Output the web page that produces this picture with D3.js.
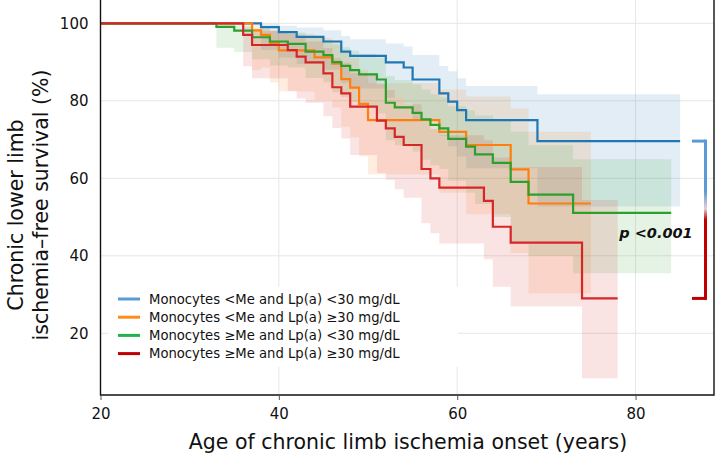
<!DOCTYPE html>
<html><head><meta charset="utf-8">
<script src="https://cdn.jsdelivr.net/npm/d3@7"></script>
<style>
body{margin:0;background:#fff}
svg{display:block}
text{font-family:"DejaVu Sans",sans-serif;fill:#111}
</style>
</head><body>
<svg id="c" width="722" height="463"></svg>
<script>
// ---------- data ----------
const xTicks = [20, 40, 60, 80];
const yTicks = [20, 40, 60, 80, 100];
const seriesNames = [
  "Monocytes <Me and Lp(a) <30 mg/dL",
  "Monocytes <Me and Lp(a) \u226530 mg/dL",
  "Monocytes \u2265Me and Lp(a) <30 mg/dL",
  "Monocytes \u2265Me and Lp(a) \u226530 mg/dL"
];
const pText = "p <0.001";

const blueTimes = [20, 38, 40, 42, 45, 47, 48, 52, 54, 55, 58, 59, 60, 61, 69];
const blueEnd = 85;
const blueSurv  = [100, 99.0, 97.7, 96.5, 95.3, 92.7, 91.6, 89.9, 88.6, 85.5, 81.9, 79.8, 77.6, 75.0, 69.6];
const blueLower = [100, 93.1, 91.1, 89.5, 88.0, 84.5, 83.2, 80.8, 79.3, 75.3, 70.9, 68.3, 65.6, 62.6, 52.7];
const blueUpper = [100, 99.9, 99.4, 98.9, 98.2, 96.7, 95.9, 94.8, 94.0, 91.8, 89.0, 87.6, 85.8, 83.8, 81.7];

const orangeTimes = [20, 37, 38, 39, 40, 44, 46, 47, 48, 49, 50, 58, 61, 66, 68];
const orangeEnd = 75;
const orangeSurv  = [100, 98.2, 97.0, 94.8, 93.0, 91.2, 89.6, 85.6, 83.4, 79.2, 75.0, 72.0, 68.6, 62.3, 53.5];
const orangeLower = [100, 87.9, 88.5, 84.7, 82.4, 80.2, 78.3, 73.3, 70.6, 65.6, 61.0, 56.3, 50.7, 40.7, 30.3];
const orangeUpper = [100, 99.7, 99.2, 98.3, 97.3, 96.2, 95.2, 92.5, 91.0, 87.9, 84.6, 82.9, 81.1, 78.0, 72.0];

const greenTimes = [20, 33, 35, 37, 39, 41, 43, 45, 46, 47, 48, 49, 51, 52, 53, 55, 56, 57, 58, 59, 61, 62, 64, 66, 68, 73];
const greenEnd = 84;
const greenSurv  = [100, 99.1, 98.1, 96.4, 95.3, 94.7, 92.7, 91.8, 90.0, 89.0, 87.9, 86.8, 85.5, 79.5, 78.3, 76.9, 75.2, 73.8, 72.9, 70.2, 68.2, 66.2, 64.0, 59.1, 55.8, 51.1];
const greenLower = [100, 93.7, 92.6, 90.7, 89.1, 88.6, 85.9, 84.8, 82.2, 81.0, 79.7, 78.4, 76.7, 69.8, 68.5, 66.9, 64.8, 63.4, 62.4, 59.4, 56.3, 53.4, 50.0, 43.1, 40.0, 35.5];
const greenUpper = [100, 99.9, 99.5, 98.6, 98.0, 97.6, 96.3, 95.6, 94.5, 93.8, 92.9, 92.1, 91.1, 86.4, 85.4, 84.2, 82.9, 81.7, 80.9, 78.6, 77.5, 76.2, 75.0, 72.0, 68.5, 64.9];

const redTimes = [20, 36, 37, 41, 42, 43, 45, 46, 47, 48, 51, 52, 53, 54, 56, 57, 58, 63, 64, 66, 74];
const redEnd = 78;
const redSurv  = [100, 97.0, 94.4, 93.1, 91.4, 89.9, 87.1, 83.5, 81.9, 78.5, 74.9, 72.9, 70.7, 68.6, 62.4, 60.0, 57.6, 54.2, 47.5, 43.4, 29.0];
const redLower = [100, 88.9, 85.8, 82.5, 80.6, 79.5, 76.0, 73.0, 70.3, 66.0, 61.4, 59.6, 57.2, 55.0, 48.4, 45.8, 43.2, 39.1, 32.0, 26.9, 8.4];
const redUpper = [100, 99.2, 98.0, 97.3, 96.3, 95.3, 93.6, 91.0, 89.8, 87.2, 84.3, 82.7, 80.8, 79.1, 74.5, 72.7, 71.1, 69.8, 65.4, 62.9, 54.4];

// ---------- styles ----------
const lineColors   = ["#1f77b4", "#ff7f0e", "#2ca02c", "#d62728"];
const legendColors = ["#5b9bd5", "#ff8c1a", "#21b24b", "#c00000"];

const series = [
  {t: blueTimes, s: blueSurv, lo: blueLower, hi: blueUpper, end: blueEnd},
  {t: orangeTimes, s: orangeSurv, lo: orangeLower, hi: orangeUpper, end: orangeEnd},
  {t: greenTimes, s: greenSurv, lo: greenLower, hi: greenUpper, end: greenEnd},
  {t: redTimes, s: redSurv, lo: redLower, hi: redUpper, end: redEnd}
];

const L = 100.5, R = 714, T = 0, B = 395;
const x = d3.scaleLinear().domain([20, 88.8]).range([L, R]);
const y = d3.scaleLinear().domain([20, 100]).range([333.3, 23.3]);

const svg = d3.select("#c");
svg.append("rect").attr("width", 722).attr("height", 463).attr("fill", "#fff");

// grid
const grid = svg.append("g");
grid.selectAll("line.h").data(yTicks).join("line")
  .attr("x1", L).attr("x2", R).attr("y1", d => y(d)).attr("y2", d => y(d))
  .attr("stroke", "#e6e6e6").attr("stroke-width", 1);
grid.selectAll("line.v").data(xTicks.slice(1)).join("line")
  .attr("x1", d => x(d)).attr("x2", d => x(d)).attr("y1", T).attr("y2", B)
  .attr("stroke", "#e6e6e6").attr("stroke-width", 1);

function pts(d) {
  const arr = d.t.map((t, i) => ({t, v: d.s[i], lo: d.lo[i], hi: d.hi[i]}));
  const last = arr[arr.length - 1];
  arr.push({t: d.end, v: last.v, lo: last.lo, hi: last.hi});
  return arr;
}

const area = d3.area().curve(d3.curveStepAfter)
  .x(d => x(d.t)).y0(d => y(d.lo)).y1(d => y(d.hi));
const line = d3.line().curve(d3.curveStepAfter)
  .x(d => x(d.t)).y(d => y(d.v));

const bands = svg.append("g");
series.forEach((d, i) => {
  bands.append("path").attr("d", area(pts(d).slice(1)))
    .attr("fill", lineColors[i]).attr("fill-opacity", 0.13).attr("stroke", "none");
});

// legend background box (covers gridlines)
svg.append("rect").attr("x", 108).attr("y", 287).attr("width", 350).attr("height", 80).attr("fill", "#fff");

const lines = svg.append("g");
series.forEach((d, i) => {
  lines.append("path").attr("d", line(pts(d)))
    .attr("fill", "none").attr("stroke", lineColors[i]).attr("stroke-width", 2.2);
});

// frame
svg.append("path").attr("d", `M${L},${T}V${B}H${R}V${T}`)
  .attr("fill", "none").attr("stroke", "#111").attr("stroke-width", 1.4);

// x axis
const xa = svg.append("g").attr("transform", `translate(0,${B})`)
  .call(d3.axisBottom(x).tickValues(xTicks).tickSize(5).tickPadding(8).tickFormat(d3.format("d")));
xa.select(".domain").remove();
xa.selectAll(".tick line").attr("stroke", "#555");
xa.selectAll("text").attr("font-size", 15).attr("fill", "#111").style("font-family", "DejaVu Sans");

// y axis
const ya = svg.append("g").attr("transform", `translate(${L},0)`)
  .call(d3.axisLeft(y).tickValues(yTicks).tickSize(0).tickPadding(12).tickFormat(d3.format("d")));
ya.select(".domain").remove();
ya.selectAll("text").attr("font-size", 15).attr("fill", "#111").style("font-family", "DejaVu Sans");

// axis titles
svg.append("text").attr("x", 408).attr("y", 449).attr("text-anchor", "middle")
  .attr("font-size", 20.5).text("Age of chronic limb ischemia onset (years)");
svg.append("text").attr("transform", "translate(23,215) rotate(-90)").attr("text-anchor", "middle")
  .attr("font-size", 20.5).text("Chronic lower limb");
svg.append("text").attr("transform", "translate(48,205) rotate(-90)").attr("text-anchor", "middle")
  .attr("font-size", 20.5).text("ischemia\u2013free survival (%)");

// legend
const lg = svg.append("g");
seriesNames.forEach((n, i) => {
  const cy = 299 + i * 18.2;
  lg.append("line").attr("x1", 118).attr("x2", 140).attr("y1", cy).attr("y2", cy)
    .attr("stroke", legendColors[i]).attr("stroke-width", 3);
  lg.append("text").attr("x", 149).attr("y", cy + 4.7).attr("font-size", 13.2).text(n);
});

// p-value bracket
const defs = svg.append("defs");
const yTop = y(blueSurv[blueSurv.length - 1]);
const yBot = y(redSurv[redSurv.length - 1]);
const grad = defs.append("linearGradient").attr("id", "br").attr("gradientUnits", "userSpaceOnUse")
  .attr("x1", 0).attr("x2", 0).attr("y1", yTop).attr("y2", yBot);
grad.append("stop").attr("offset", "0").attr("stop-color", legendColors[0]);
grad.append("stop").attr("offset", "0.32").attr("stop-color", legendColors[0]);
grad.append("stop").attr("offset", "0.43").attr("stop-color", "#e4cfd8");
grad.append("stop").attr("offset", "0.5").attr("stop-color", legendColors[3]);
grad.append("stop").attr("offset", "1").attr("stop-color", legendColors[3]);
svg.append("line").attr("x1", 692).attr("x2", 705.5).attr("y1", yTop).attr("y2", yTop)
  .attr("stroke", legendColors[0]).attr("stroke-width", 3);
svg.append("line").attr("x1", 692).attr("x2", 705.5).attr("y1", yBot).attr("y2", yBot)
  .attr("stroke", legendColors[3]).attr("stroke-width", 3);
svg.append("rect").attr("x", 704).attr("y", yTop - 1.5).attr("width", 3).attr("height", yBot - yTop + 3)
  .attr("fill", "url(#br)");
svg.append("text").attr("x", 656).attr("y", 238).attr("text-anchor", "middle")
  .attr("font-size", 14.5).attr("font-weight", "bold").attr("font-style", "italic").text(pText);
</script>
</body></html>
